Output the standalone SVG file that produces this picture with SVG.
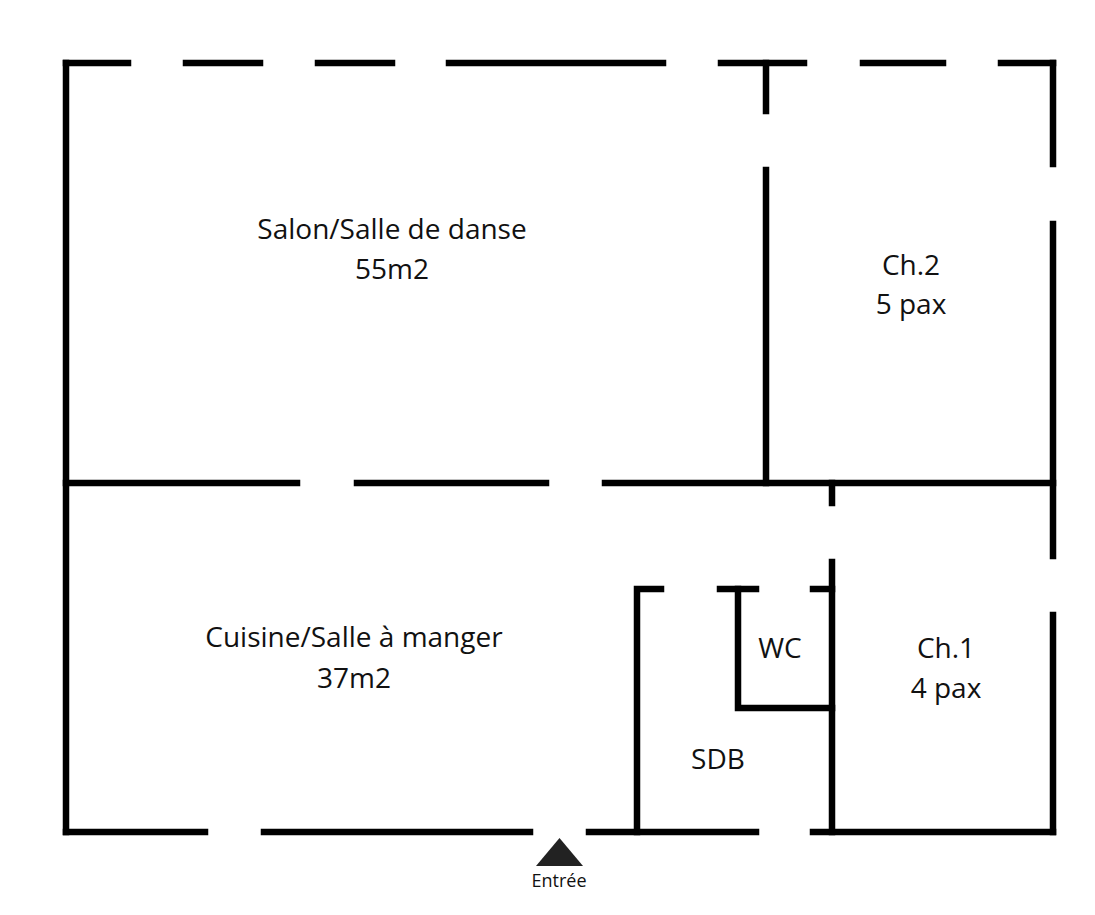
<svg xmlns="http://www.w3.org/2000/svg" width="1095" height="915" viewBox="0 0 1095 915">
<style>
.w{stroke:#000;stroke-width:6.5;fill:none;stroke-linecap:square}
.t{font-family:"Open Sans",sans-serif;font-size:28px;fill:#111;text-anchor:middle}
</style>
<rect width="1095" height="915" fill="#fff"/>
<g id="walls" class="w">
<path d="M66 63H128M186 63H260M318 63H392M449 63H663M721 63H804M863 63H943M1001 63H1053"/>
<path d="M66 63V832M1053 63V164M1053 224V556M1053 615V832"/>
<path d="M766 63V111M766 170V483"/>
<path d="M66 483H297M357 483H546M605 483H1053"/>
<path d="M832 483V503M832 562V832"/>
<path d="M66 832H205M264 832H530M589 832H756M813 832H1053"/>
<path d="M637 589H661M720 589H756M813 589H832M637 589V832"/>
<path d="M738 589V708H832"/>
</g>
<g id="labels">
<text class="t" x="392" y="239">Salon/Salle de danse</text>
<text class="t" x="392" y="279">55m2</text>
<text class="t" x="911" y="275">Ch.2</text>
<text class="t" x="911" y="314">5 pax</text>
<text class="t" x="354" y="647">Cuisine/Salle à manger</text>
<text class="t" x="354" y="688">37m2</text>
<text class="t" x="780" y="658">WC</text>
<text class="t" x="946" y="658">Ch.1</text>
<text class="t" x="946" y="698">4 pax</text>
<text class="t" x="718" y="769">SDB</text>
</g>
<g id="entree">
<polygon points="536,866 583,866 559.5,838" fill="#222"/>
<text x="559" y="887" style="font-family:'Open Sans',sans-serif;font-size:18px;fill:#111;text-anchor:middle">Entrée</text>
</g>
</svg>
